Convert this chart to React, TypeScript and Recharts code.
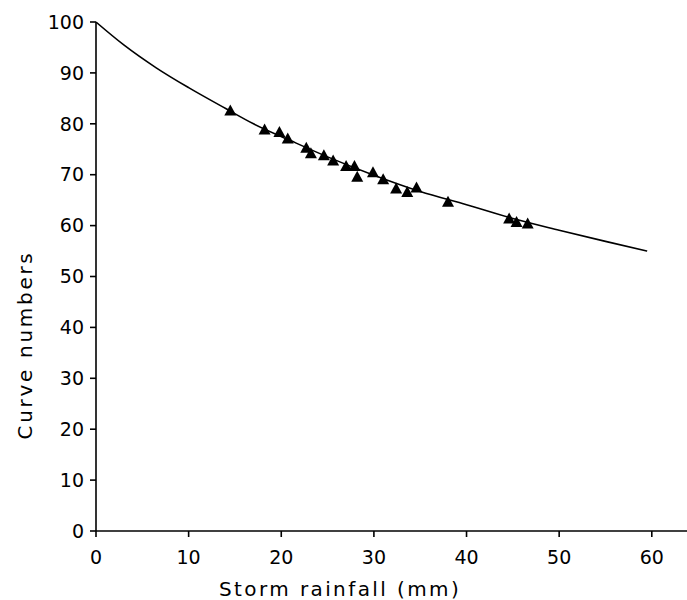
import React from 'react';
import { ComposedChart, Line, Scatter, XAxis, YAxis } from 'recharts';

const curveRain = [0, 3, 6.5, 10, 14, 17, 21, 25, 30, 35, 40, 45, 50, 55, 59.5];
const curveCN = [100, 95.5, 91.0, 87.1, 83.0, 80.0, 76.7, 73.5, 69.9, 66.7, 64.1, 61.4, 59.1, 56.9, 55.0];

const obsRain = [14.5, 18.2, 19.8, 20.7, 22.7, 23.2, 24.6, 25.6, 27.0, 27.9, 28.2, 29.9, 31.0, 32.4, 33.6, 34.6, 38.0, 44.6, 45.4, 46.6];
const obsCN = [82.7, 79.0, 78.5, 77.2, 75.4, 74.3, 73.9, 72.9, 71.8, 71.8, 69.7, 70.6, 69.2, 67.4, 66.7, 67.6, 64.8, 61.5, 60.8, 60.5];

const xTicks = [0, 10, 20, 30, 40, 50, 60];
const yTicks = [0, 10, 20, 30, 40, 50, 60, 70, 80, 90, 100];

const curveData = curveRain.map((p, i) => ({ p, cn: curveCN[i] }));
const obsData = obsRain.map((p, i) => ({ p, cn: obsCN[i] }));

const FONT = '"DejaVu Sans", sans-serif';

const Triangle = (props: any) => {
  const { cx, cy } = props;
  if (cx == null || cy == null) return null;
  const w = 12;
  const h = 11;
  return (
    <polygon
      points={`${cx - w / 2},${cy + h / 2} ${cx + w / 2},${cy + h / 2} ${cx},${cy - h / 2}`}
      fill="#000"
    />
  );
};

const XLabel = (props: any) => {
  const vb = props.viewBox || {};
  return (
    <text
      x={vb.x + 123}
      y={vb.y + vb.height - 4}
      fontFamily={FONT}
      fontSize={20}
      letterSpacing={2.4}
      fill="#000"
    >
      Storm rainfall (mm)
    </text>
  );
};

const YLabel = () => {
  const x = 32;
  const y = 345;
  return (
    <text
      x={x}
      y={y}
      transform={`rotate(-90, ${x}, ${y})`}
      textAnchor="middle"
      fontFamily={FONT}
      fontSize={20}
      letterSpacing={2.7}
      fill="#000"
    >
      Curve numbers
    </text>
  );
};

export default function App() {
  return (
    <div style={{ position: 'absolute', left: 0, top: 0, background: '#fff' }}>
      <ComposedChart
        width={687}
        height={600}
        margin={{ top: 22, right: 0, left: 0, bottom: 0 }}
      >
        <XAxis
          type="number"
          dataKey="p"
          domain={[0, 63.8]}
          ticks={xTicks}
          allowDataOverflow
          height={69}
          axisLine={{ stroke: '#000', strokeWidth: 1.6 }}
          tickLine={{ stroke: '#000', strokeWidth: 1.6 }}
          tickSize={6}
          tickMargin={14}
          tick={{ fill: '#000', fontSize: 19, fontFamily: FONT }}
          label={<XLabel />}
        />
        <YAxis
          type="number"
          dataKey="cn"
          domain={[0, 100]}
          ticks={yTicks}
          width={96}
          axisLine={{ stroke: '#000', strokeWidth: 1.6 }}
          tickLine={{ stroke: '#000', strokeWidth: 1.6 }}
          tickSize={6}
          tickMargin={6}
          tick={{ fill: '#000', fontSize: 19, fontFamily: FONT }}
          label={<YLabel />}
        />
        <Line
          data={curveData}
          dataKey="cn"
          type="monotone"
          stroke="#000"
          strokeWidth={1.6}
          dot={false}
          activeDot={false}
          isAnimationActive={false}
        />
        <Scatter
          data={obsData}
          dataKey="cn"
          shape={<Triangle />}
          isAnimationActive={false}
        />
      </ComposedChart>
    </div>
  );
}
